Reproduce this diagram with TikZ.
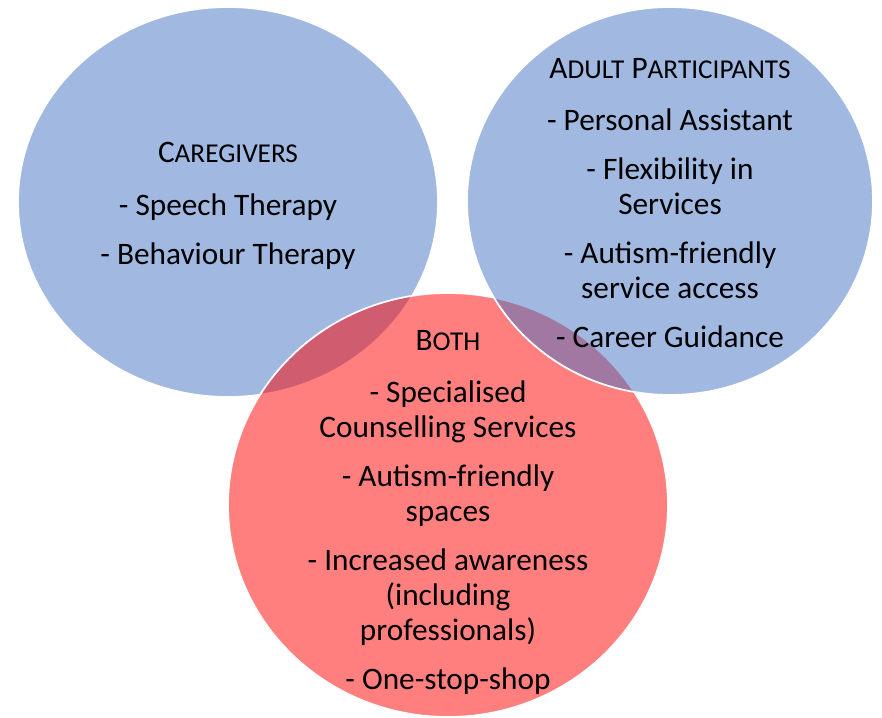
\documentclass[tikz,border=0pt]{standalone}
\usepackage{fontspec}
\setmainfont{Carlito}
\usetikzlibrary{positioning}
\definecolor{SetBlue}{HTML}{4472C4}
\definecolor{SetRed}{HTML}{FF0000}
\newcommand{\fakesc}[2]{#1{\fontsize{15.5}{15.5}\selectfont #2}}

\begin{document}
\begin{tikzpicture}[x=0.02cm, y=-0.02cm, font=\fontsize{17.8}{19.9}\selectfont,
    venn/.style={fill opacity=0.5, draw=white, line width=1pt},
    items/.style={align=center, inner sep=0pt, anchor=north}]
    \useasboundingbox (0,0) rectangle (882,717);

    % the three sets, drawn in this order so the overlaps blend
    \filldraw[venn, fill=SetBlue] (228,202) ellipse [x radius=210, y radius=195];
    \filldraw[venn, fill=SetRed] (448,505) ellipse [x radius=220, y radius=212];
    \filldraw[venn, fill=SetBlue] (670,201) ellipse [x radius=203, y radius=194];

    \node[items] (carers) at (228,142) {\fakesc{C}{AREGIVERS}\\[10pt]
        - Speech Therapy\\[8pt]
        - Behaviour Therapy};
    \node[items] (adults) at (670,58) {\fakesc{A}{DULT} \fakesc{P}{ARTICIPANTS}\\[10pt]
        - Personal Assistant\\[8pt]
        - Flexibility in\\ Services\\[8pt]
        - Autism-friendly\\ service access\\[8pt]
        - Career Guidance};
    \node[items] (both) at (448,330) {\fakesc{B}{OTH}\\[10pt]
        - Specialised\\ Counselling Services\\[8pt]
        - Autism-friendly\\ spaces\\[8pt]
        - Increased awareness\\ (including\\ professionals)\\[8pt]
        - One-stop-shop};
\end{tikzpicture}
\end{document}
